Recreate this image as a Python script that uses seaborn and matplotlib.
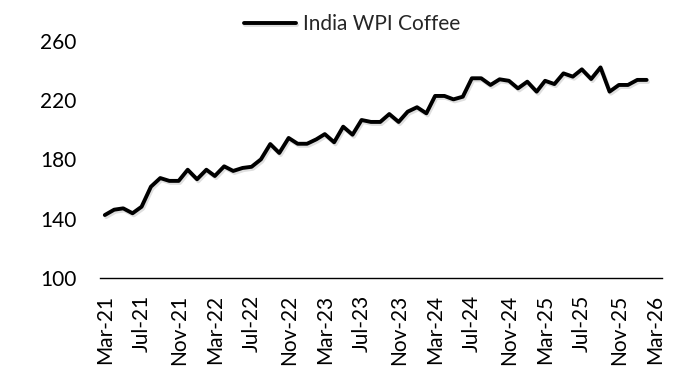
import numpy as np
import pandas as pd
import matplotlib
matplotlib.use("Agg")
import matplotlib.pyplot as plt
import matplotlib.dates as mdates
import matplotlib.patheffects as pe
import seaborn as sns

# --- Data: India WPI Coffee, monthly Mar-21 .. Feb-26 ---
start_month = "2021-03-01"
series_name = "India WPI Coffee"
wpi_coffee = [
    142.6, 146.2, 147.1, 143.8, 148.2, 161.7, 167.5, 165.6, 165.6, 173.1,   # Mar-21 .. Dec-21
    166.7, 173.1, 168.9, 175.4, 172.3, 174.3, 175.1, 180.1, 190.4, 184.4,   # Jan-22 .. Oct-22
    194.5, 190.6, 190.6, 193.6, 197.1, 191.6, 202.1, 196.7, 206.6, 205.3,   # Nov-22 .. Aug-23
    205.3, 210.6, 205.3, 212.2, 215.2, 211.1, 222.8, 222.8, 220.5, 222.3,   # Sep-23 .. Jun-24
    234.7, 234.7, 230.2, 234.0, 233.0, 227.9, 232.4, 225.7, 233.0, 230.8,   # Jul-24 .. Apr-25
    238.0, 235.8, 240.7, 234.2, 242.0, 225.7, 230.2, 230.2, 233.6, 233.6,   # May-25 .. Feb-26
]
y_ticks = [100, 140, 180, 220, 260]

dates = pd.date_range(start_month, periods=len(wpi_coffee), freq="MS")
df = pd.DataFrame({"date": dates, "value": wpi_coffee})

# --- Style ---
sns.set_theme(style="white")
plt.rcParams["font.family"] = ["Lato", "DejaVu Sans"]
font_size = 15

fig = plt.figure(figsize=(6.88, 3.67), dpi=100)
ax = fig.add_axes([100 / 688, 1 - 278.3 / 367, 562 / 688, 237.6 / 367])

sns.lineplot(data=df, x="date", y="value", ax=ax, color="black",
             linewidth=2.8, label=series_name,
             path_effects=[pe.SimpleLineShadow(offset=(1, -1.5), shadow_color="gray", alpha=0.25),
                           pe.Normal()])

# --- Axes ---
ax.set_ylim(100, 260)
ax.set_yticks(y_ticks)
ax.set_xlim(pd.Timestamp("2021-02-13"), pd.Timestamp("2026-03-24"))
ax.xaxis.set_major_locator(mdates.MonthLocator(bymonth=[3, 7, 11]))
ax.xaxis.set_major_formatter(mdates.DateFormatter("%b-%y"))
ax.tick_params(axis="x", length=0, pad=12, labelsize=font_size, labelrotation=90, colors="black")
ax.tick_params(axis="y", length=0, pad=17, labelsize=font_size, colors="black")
ax.set_xlabel("")
ax.set_ylabel("")
ax.grid(False)

for side in ["top", "right", "left"]:
    ax.spines[side].set_visible(False)
ax.spines["bottom"].set_color("black")
ax.spines["bottom"].set_linewidth(1.0)

# Legend above the plot
ax.legend(loc="center", bbox_to_anchor=(352 / 688, 1 - 24 / 367),
          bbox_transform=fig.transFigure, frameon=False, fontsize=font_size,
          handlelength=2.5, handletextpad=0.35)

fig.savefig("out.png", dpi=100)
